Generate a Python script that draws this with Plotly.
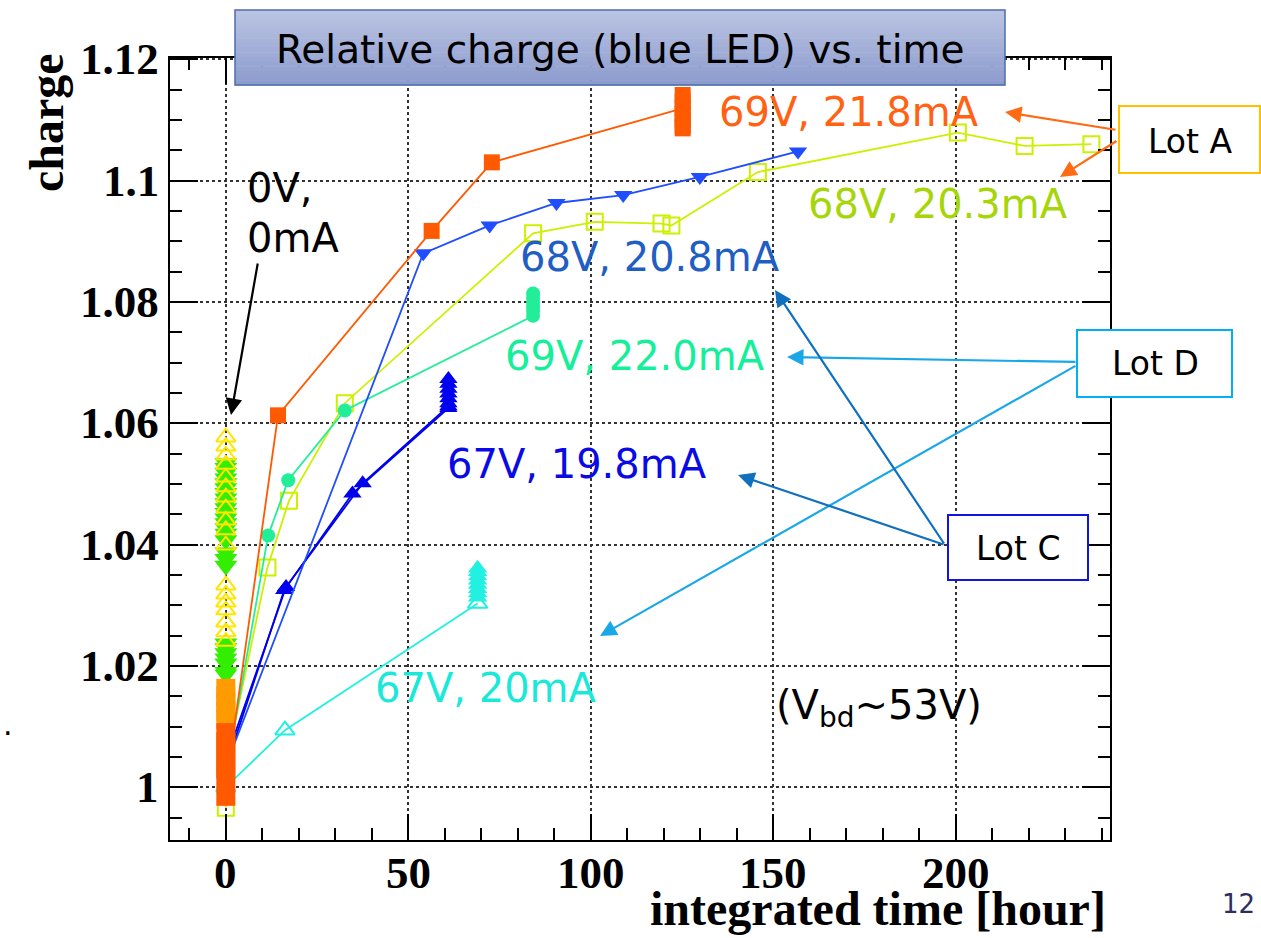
import plotly.graph_objects as go

# ---------------- data ----------------
# reference SiPMs (0V, 0mA) all sitting at integrated time 0
ref_yellow_y = [1.0577, 1.0562, 1.0547, 1.0532, 1.0511, 1.0495, 1.0478, 1.0460,
                1.0440, 1.0424, 1.0399, 1.0333, 1.0318, 1.0305, 1.0292, 1.0272,
                1.0256, 1.0240]
ref_green_y = [1.0534, 1.0526, 1.0518, 1.0509, 1.0501, 1.0493, 1.0485, 1.0476,
               1.0468, 1.0460, 1.0452, 1.0443, 1.0435, 1.0427, 1.0418, 1.0407,
               1.0387, 1.0376, 1.0365, 1.0237, 1.0229, 1.0221, 1.0212, 1.0204,
               1.0190, 1.0186]
lightorange_y = [1.0112, 1.0125, 1.0138, 1.0150, 1.0163]
orange0_y = [1.0090, 1.0075, 1.0060, 1.0045, 1.0030, 1.0015, 0.9985]

# Lot A: 69V, 21.8mA
a69_x = [0, 14.3, 56.4, 72.9, 125.2, 125.2, 125.2, 125.2, 125.2, 125.2, 125.2]
a69_y = [1.0000, 1.0613, 1.0917, 1.1030, 1.1119, 1.1141, 1.1130, 1.1110, 1.1100,
         1.1090, 1.1086]
# Lot A: 68V, 20.3mA
a68_x = [0, 0, 11.4, 17.3, 32.6, 84.2, 101.1, 119.4, 122.1, 145.8, 200.6, 218.9, 237.2]
a68_y = [0.9966, 1.0035, 1.0362, 1.0472, 1.0633, 1.0913, 1.0932, 1.0929, 1.0926,
         1.1014, 1.1079, 1.1057, 1.1060]
# Lot C: 68V, 20.8mA
c68_x = [0, 54.1, 72.3, 90.6, 108.9, 129.9, 156.8]
c68_y = [1.0035, 1.0880, 1.0926, 1.0963, 1.0976, 1.1006, 1.1048]
# Lot C: 67V, 19.8mA (two samples)
c67a_x = [0, 16.0, 34.7, 61.0, 61.0, 61.0, 61.0, 61.0, 61.0, 61.0]
c67a_y = [1.0033, 1.0325, 1.0484, 1.0625, 1.0633, 1.0641, 1.0649, 1.0657, 1.0665, 1.0673]
c67b_x = [0, 16.5, 37.5, 61.0]
c67b_y = [1.0045, 1.0330, 1.0501, 1.0628]
# Lot D: 69V, 22.0mA
d69_x = [0, 11.6, 17.1, 32.6, 84.2, 84.2, 84.2, 84.2, 84.2, 84.2]
d69_y = [1.0021, 1.0415, 1.0506, 1.0621, 1.0777, 1.0785, 1.0792, 1.0800, 1.0807, 1.0814]
# Lot D: 67V, 20mA
d67_x = [0, 16.2, 69.0]
d67_y = [1.0000, 1.0094, 1.0303]
d67_stack_y = [1.0313, 1.0320, 1.0327, 1.0334, 1.0341, 1.0348, 1.0355, 1.0361]

x_ticks = [0, 50, 100, 150, 200]
x_tick_text = ["0", "50", "100", "150", "200"]
y_ticks = [1.0, 1.02, 1.04, 1.06, 1.08, 1.10, 1.12]
y_tick_text = ["1", "1.02", "1.04", "1.06", "1.08", "1.1", "1.12"]

# ---------------- layout helpers ----------------
W, H = 1261, 938
L, R, T, B = 170, 1110, 58, 840


def px(x):
    return (x - L) / (R - L)


def py(y):
    return (B - y) / (B - T)


SANS = "DejaVu Sans"
SERIF = "Liberation Serif"

fig = go.Figure()


def add_series(x, y, color, symbol, size, lw=1.8, mode="lines+markers", mlw=2.0):
    fig.add_trace(go.Scatter(
        x=x, y=y, mode=mode,
        line=dict(color=color, width=lw),
        marker=dict(symbol=symbol, size=size, color=color,
                    line=dict(color=color, width=mlw)),
        showlegend=False, cliponaxis=True))


# reference cluster at t = 0
add_series([0] * len(ref_green_y), ref_green_y, "#33ee00", "triangle-down", 20, mode="markers", mlw=0)
add_series([0] * len(ref_yellow_y), ref_yellow_y, "#ffe600", "triangle-up-open", 17, mode="markers")

add_series(d67_x, d67_y, "#22f0e0", "triangle-up-open", 17)
add_series([d67_x[-1]] * len(d67_stack_y), d67_stack_y, "#22f0e0", "triangle-up", 17,
           mode="markers", mlw=0)
add_series(a68_x, a68_y, "#cdf000", "square-open", 16)
add_series(d69_x, d69_y, "#22ee99", "circle", 14, mlw=0)
add_series(c67b_x, c67b_y, "#0000ee", "triangle-up", 16, mlw=0)
add_series(c67a_x, c67a_y, "#0000ee", "triangle-up", 16, mlw=0)
add_series(c68_x, c68_y, "#1f4dff", "triangle-down", 16, mlw=0)
add_series([0] * len(lightorange_y), lightorange_y, "#ff9a00", "square", 19, mode="markers", mlw=0)
add_series([0] * len(orange0_y), orange0_y, "#ff5a00", "square", 19, mode="markers", mlw=0)
add_series(a69_x, a69_y, "#ff5a00", "square", 16, mlw=0)

axis_common = dict(
    showline=True, linecolor="black", linewidth=2, mirror="ticks",
    ticks="inside", tickcolor="black", tickwidth=2,
    showgrid=True, gridcolor="#333333", griddash="dot", gridwidth=1.6,
    zeroline=False, showticklabels=False,
)

fig.update_xaxes(range=[-15.3, 242.3], tickvals=x_ticks, ticklen=26,
                 minor=dict(dtick=10, tick0=0, ticklen=12, ticks="inside",
                            tickcolor="black", tickwidth=2, showgrid=False),
                 **axis_common)
fig.update_yaxes(range=[0.9913, 1.1202], tickvals=y_ticks, ticklen=28,
                 minor=dict(dtick=0.005, tick0=1.0, ticklen=12, ticks="inside",
                            tickcolor="black", tickwidth=2, showgrid=False),
                 **axis_common)

shapes = []
# title box with vertical gradient
x0b, x1b, y0b, y1b = 235, 1005, 10, 85
n = 16
top = (186, 195, 226)
bot = (141, 156, 206)
for i in range(n):
    f = i / (n - 1)
    c = tuple(int(round(top[k] + (bot[k] - top[k]) * f)) for k in range(3))
    ya = y0b + (y1b - y0b) * i / n
    yb = y0b + (y1b - y0b) * (i + 1) / n
    shapes.append(dict(type="rect", xref="paper", yref="paper", layer="above",
                       x0=px(x0b), x1=px(x1b), y0=py(ya), y1=py(yb + 0.5),
                       line=dict(width=0), fillcolor="rgb(%d,%d,%d)" % c))
shapes.append(dict(type="rect", xref="paper", yref="paper", layer="above",
                   x0=px(x0b), x1=px(x1b), y0=py(y0b), y1=py(y1b),
                   line=dict(color="#4f6cae", width=1.5), fillcolor="rgba(0,0,0,0)"))

# lot boxes
for (bx0, by0, bx1, by1, col) in [(1119, 106, 1260, 173, "#ffc000"),
                                  (1077, 330, 1232, 397, "#00b0f0"),
                                  (948, 515, 1088, 580, "#1414e0")]:
    shapes.append(dict(type="rect", xref="paper", yref="paper", layer="above",
                       x0=px(bx0), x1=px(bx1), y0=py(by0), y1=py(by1),
                       line=dict(color=col, width=2), fillcolor="white"))

annotations = []


def text(x, y, s, color="black", size=40, xanchor="left", family=SANS, **kw):
    annotations.append(dict(x=px(x), y=py(y), xref="paper", yref="paper",
                            text=s, showarrow=False, xanchor=xanchor, yanchor="middle",
                            font=dict(family=family, size=size, color=color), **kw))


def arrow(tx, ty, sx, sy, color, width=2.2):
    annotations.append(dict(x=px(tx), y=py(ty), xref="paper", yref="paper",
                            ax=sx - tx, ay=sy - ty, text="", showarrow=True,
                            arrowhead=2, arrowsize=1.5, arrowwidth=width,
                            arrowcolor=color, standoff=0, startstandoff=0))


# tick labels (ROOT style bold serif)
TICKFONT = dict(family=SERIF, size=45, color="black", weight="bold")
for v, t in zip(x_ticks, x_tick_text):
    annotations.append(dict(x=v, xref="x", y=py(873), yref="paper", text=t,
                            showarrow=False, xanchor="center", yanchor="middle",
                            font=TICKFONT))
for v, t in zip(y_ticks, y_tick_text):
    annotations.append(dict(x=px(161), xref="paper", y=v, yref="y", text=t,
                            showarrow=False, xanchor="right", yanchor="middle",
                            font=TICKFONT))

text(620, 49, "Relative charge (blue LED) vs. time", size=39, xanchor="center")
text(717, 112, "69V, 21.8mA", "#ff6212", 40)
text(806, 204, "68V, 20.3mA", "#a6d60a", 40)
text(518, 257, "68V, 20.8mA", "#1f5ec2", 40)
text(503, 356, "69V, 22.0mA", "#14f09a", 40)
text(445, 464, "67V, 19.8mA", "#0a0ae6", 40)
text(373, 688, "67V, 20mA", "#1ae8d8", 40)
text(245, 188, "0V,", "black", 40)
text(245, 238, "0mA", "black", 40)
text(774, 708, "(V<sub>bd</sub>~53V)", "black", 40)
text(1190, 141, "Lot A", "black", 33, xanchor="center")
text(1155, 364, "Lot D", "black", 33, xanchor="center")
text(1018, 548, "Lot C", "black", 33, xanchor="center")
text(1238, 904, "12", "#2e2e5c", 26, xanchor="center")
text(1, 724, ".", "black", 30)

# axis titles (ROOT style, right / top aligned)
text(1108, 909, "integrated time [hour]", "black", 48, xanchor="right", family=SERIF)
annotations[-1]["font"]["weight"] = "bold"
annotations.append(dict(x=px(46), y=py(123), xref="paper", yref="paper", text="charge",
                        showarrow=False, textangle=-90, xanchor="center", yanchor="middle",
                        font=dict(family=SERIF, size=48, color="black", weight="bold")))

# arrows
arrow(231, 415, 258, 262, "black")
arrow(1005, 112, 1117, 130, "#ff6a13")
arrow(1060, 177, 1118, 140, "#ff6a13")
arrow(787, 357, 1077, 362, "#1aa7e8")
arrow(600, 636, 1077, 365, "#1aa7e8")
arrow(775, 290, 945, 545, "#1070c0")
arrow(738, 475, 945, 545, "#1070c0")

fig.update_layout(
    width=W, height=H,
    margin=dict(l=L, r=W - R, t=T, b=H - B, pad=0),
    paper_bgcolor="white", plot_bgcolor="white",
    shapes=shapes, annotations=annotations, showlegend=False,
)

fig.write_html("out.html")
